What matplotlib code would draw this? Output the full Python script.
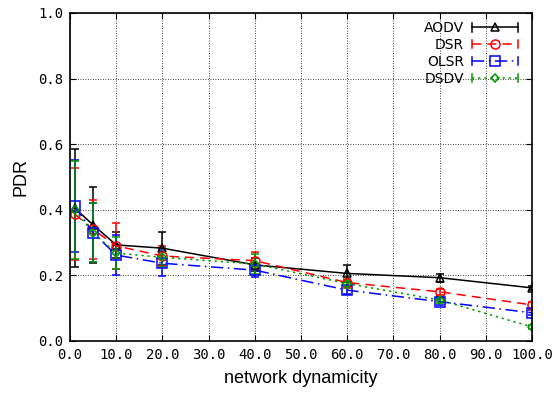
import matplotlib
matplotlib.use('Agg')
from matplotlib import pyplot as plt
from matplotlib.ticker import FormatStrFormatter
from matplotlib.legend_handler import HandlerLine2D
from matplotlib.lines import Line2D

# network dynamicity values
x = [1, 5, 10, 20, 40, 60, 80, 100]

aodv = [0.405, 0.354, 0.293, 0.283, 0.232, 0.206, 0.193, 0.162]
aodv_err = [0.18, 0.115, 0.04, 0.05, 0.02, 0.025, 0.012, 0.006]

dsr = [0.387, 0.340, 0.290, 0.259, 0.245, 0.178, 0.150, 0.110]
dsr_err = [0.14, 0.09, 0.07, 0.03, 0.025, 0.01, 0.01, 0.008]

olsr = [0.412, 0.330, 0.262, 0.237, 0.216, 0.155, 0.120, 0.086]
olsr_err = [0.14, 0.09, 0.06, 0.04, 0.02, 0.012, 0.01, 0.008]

dsdv = [0.400, 0.330, 0.268, 0.255, 0.235, 0.175, 0.125, 0.043]
dsdv_err = [0.15, 0.09, 0.05, 0.03, 0.03, 0.012, 0.01, 0.006]

x_ticks = [0, 10, 20, 30, 40, 50, 60, 70, 80, 90, 100]
y_ticks = [0.0, 0.2, 0.4, 0.6, 0.8, 1.0]

series = [
    ('AODV', aodv, aodv_err, 'black', '-', '^', 6),
    ('DSR', dsr, dsr_err, '#ff0000', (0, (6, 4)), 'o', 6.5),
    ('OLSR', olsr, olsr_err, '#0000ff', (0, (8, 3, 1, 3)), 's', 6.5),
    ('DSDV', dsdv, dsdv_err, '#009900', (0, (1.5, 2.5)), 'D', 4.5),
]


class CapHandler(HandlerLine2D):
    # gnuplot style key sample: horizontal line with caps at both ends
    def create_artists(self, legend, orig_handle, xdescent, ydescent,
                       width, height, fontsize, trans):
        arts = super().create_artists(legend, orig_handle, xdescent, ydescent,
                                      width, height, fontsize, trans)
        ym = (height - ydescent) / 2
        x0 = -xdescent
        x1 = width - xdescent
        for xc in (x0, x1):
            cap = Line2D([xc, xc], [ym - 3, ym + 3], color=orig_handle.get_color(),
                         linewidth=1.1, transform=trans)
            arts.append(cap)
        return arts


fig = plt.figure(figsize=(5.57, 3.98), dpi=100)
ax = fig.add_axes([70 / 557, 1 - 341 / 398, 462 / 557, 328 / 398])

handles = []
for name, y, err, c, ls, m, ms in series:
    ax.errorbar(x, y, yerr=err, color=c, linestyle=ls, linewidth=1.1,
                marker=m, markersize=ms, markerfacecolor='none',
                markeredgecolor=c, markeredgewidth=1.1,
                ecolor=c, elinewidth=1.1, capsize=3, capthick=1.1)
    handles.append(Line2D([], [], color=c, linestyle=ls, linewidth=1.1,
                          marker=m, markersize=ms, markerfacecolor='none',
                          markeredgecolor=c, markeredgewidth=1.1, label=name))

ax.set_xlim(0, 100)
ax.set_ylim(0, 1.0)
ax.set_xticks(x_ticks)
ax.set_yticks(y_ticks)
ax.xaxis.set_major_formatter(FormatStrFormatter('%.1f'))
ax.yaxis.set_major_formatter(FormatStrFormatter('%.1f'))
for lab in ax.get_xticklabels() + ax.get_yticklabels():
    lab.set_family('DejaVu Sans Mono')
    lab.set_fontsize(10)
ax.tick_params(direction='in', top=True, right=True, length=4, width=0.8, pad=5)

ax.grid(True, color='black', linestyle=(0, (1, 2)), linewidth=0.6)
for s in ax.spines.values():
    s.set_linewidth(1.2)

ax.set_xlabel('network dynamicity', family='Liberation Sans', fontsize=13, labelpad=6)
ax.set_ylabel('PDR', family='Liberation Sans', fontsize=13, labelpad=6)

leg = ax.legend(handles=handles, loc='upper right', bbox_to_anchor=(0.988, 1.0),
                frameon=False, markerfirst=False,
                prop={'family': 'DejaVu Sans', 'size': 10},
                handler_map={Line2D: CapHandler()},
                handlelength=3.3, handletextpad=0.6, labelspacing=0.2,
                borderaxespad=0.2)

fig.savefig('out.png', dpi=100)
